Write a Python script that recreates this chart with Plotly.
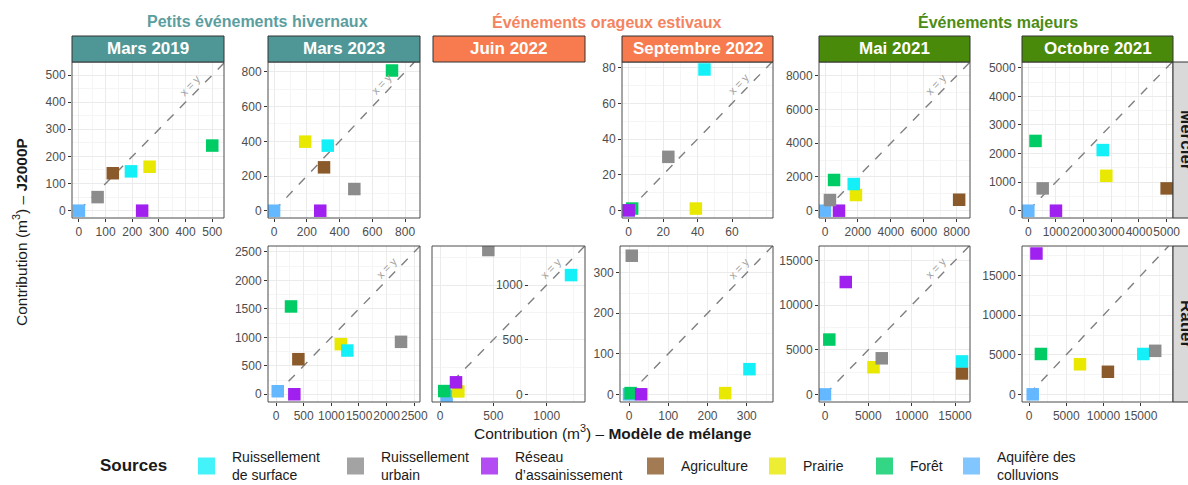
import math
import plotly.graph_objects as go

# ---------------- data ----------------
sources = ["Ruissellement de surface", "Ruissellement urbain", "Réseau d'assainissement",
           "Agriculture", "Prairie", "Forêt", "Aquifère des colluvions"]
legend_labels = ["Ruissellement<br>de surface", "Ruissellement<br>urbain", "Réseau<br>d’assainissement",
                 "Agriculture", "Prairie", "Forêt", "Aquifère des<br>colluvions"]
colors = ["#14F0F8", "#8C8C8C", "#A020F0", "#8B5A2B", "#E8E800", "#00CC66", "#63B8FF"]
draw_order = ["Agriculture", "Aquifère des colluvions", "Forêt", "Prairie",
              "Réseau d'assainissement", "Ruissellement de surface", "Ruissellement urbain"]

events = ["Mars 2019", "Mars 2023", "Juin 2022", "Septembre 2022", "Mai 2021", "Octobre 2021"]
groups = ["Petits événements hivernaux", "Événements orageux estivaux", "Événements majeurs"]
sites = ["Mercier", "Ratier"]

# x = Modèle de mélange, y = J2000P (order of `sources`)
mercier_mars2019_x = [195, 70, 237, 127, 265, 500, 0]
mercier_mars2019_y = [145, 50, 0, 138, 162, 240, 0]
mercier_mars2023_x = [328, 490, 282, 305, 190, 720, 0]
mercier_mars2023_y = [375, 125, 0, 250, 398, 808, 0]
mercier_sept2022_x = [44, 23, 0, None, 39, 2, 0]
mercier_sept2022_y = [79, 30, 0, None, 1, 1, 0]
mercier_mai2021_x = [1745, 300, 850, 8150, 1880, 550, 0]
mercier_mai2021_y = [1580, 630, 0, 650, 930, 1820, 0]
mercier_oct2021_x = [2690, 520, 1000, 5000, 2820, 260, 0]
mercier_oct2021_y = [2120, 780, 0, 780, 1220, 2440, 0]

ratier_mars2023_x = [1290, 2260, 331, 404, 1170, 271, 31]
ratier_mars2023_y = [768, 921, 0, 616, 880, 1542, 53]
ratier_juin2022_x = [1228, 453, 150, None, 172, 40, 62]
ratier_juin2022_y = [1091, 1320, 110, None, 27, 30, -13]
ratier_sept2022_x = [307, 7, 31, None, 245, 4, 0]
ratier_sept2022_y = [62, 342, 0, None, 3, 3, 0]
ratier_mai2021_x = [15800, 6550, 2400, 15800, 5600, 500, 0]
ratier_mai2021_y = [3700, 4050, 12600, 2350, 3050, 6150, 0]
ratier_oct2021_x = [15350, 16950, 1000, 10600, 6850, 1600, 500]
ratier_oct2021_y = [5100, 5500, 17800, 2850, 3800, 5100, 0]

# ---------------- layout helpers ----------------
W, H = 1188, 485
def px(x): return x / W
def py(y): return 1 - y / H

FONT = "Liberation Sans, Arial, sans-serif"
col_px = [(72, 224), (268, 420), (433, 585), (622, 773), (819, 970), (1022, 1173)]
row_px = {"Mercier": (62, 218), "Ratier": (246, 402)}
strip_fill = ["#4F9797", "#4F9797", "#F77B4E", "#F77B4E", "#4A8A0A", "#4A8A0A"]
group_colors = ["#5B9EA0", "#F4845F", "#4C8C14"]
group_x = [257, 607, 998]

panels = [
    dict(site="Mercier", ev=0, dom=(72, 224), xr=(-26, 544), yr=(-27, 548), dt=100, lab=True,
         x=mercier_mars2019_x, y=mercier_mars2019_y),
    dict(site="Mercier", ev=1, dom=(268, 420), xr=(-37, 891), yr=(-42, 857), dt=200, lab=True,
         x=mercier_mars2023_x, y=mercier_mars2023_y),
    dict(site="Mercier", ev=3, dom=(622, 773), xr=(-3.9, 83.8), yr=(-4.3, 83.2), dt=20, lab=True,
         x=mercier_sept2022_x, y=mercier_sept2022_y, xticks=[0, 20, 40, 60]),
    dict(site="Mercier", ev=4, dom=(819, 970), xr=(-365, 8810), yr=(-433, 8812), dt=2000, lab=True,
         x=mercier_mai2021_x, y=mercier_mai2021_y),
    dict(site="Mercier", ev=5, dom=(1022, 1173), xr=(-228, 5230), yr=(-255, 5200), dt=1000, lab=False,
         x=mercier_oct2021_x, y=mercier_oct2021_y),
    dict(site="Ratier", ev=1, dom=(268, 420), xr=(-145, 2603), yr=(-136, 2604), dt=500, lab=True,
         x=ratier_mars2023_x, y=ratier_mars2023_y),
    dict(site="Ratier", ev=2, dom=(432, 585), xr=(-75, 1359), yr=(-70, 1357), dt=500, lab=True,
         x=ratier_juin2022_x, y=ratier_juin2022_y, ypos=528),
    dict(site="Ratier", ev=3, dom=(620, 773), xr=(-23, 367), yr=(-19, 366), dt=100, lab=True,
         x=ratier_sept2022_x, y=ratier_sept2022_y),
    dict(site="Ratier", ev=4, dom=(819, 970), xr=(-690, 16730), yr=(-850, 16640), dt=5000, lab=True,
         x=ratier_mai2021_x, y=ratier_mai2021_y),
    dict(site="Ratier", ev=5, dom=(1022, 1173), xr=(-940, 19340), yr=(-970, 18750), dt=5000, lab=False,
         x=ratier_oct2021_x, y=ratier_oct2021_y),
]

fig = go.Figure()
shapes, annotations = [], []

def ann(**kw):
    base = dict(xref="paper", yref="paper", showarrow=False, xanchor="center", yanchor="middle")
    base.update(kw)
    annotations.append(base)

for i, p in enumerate(panels):
    n = i + 1
    xa, ya = f"x{n}", f"y{n}"
    xk, yk = ("xaxis" if n == 1 else f"xaxis{n}"), ("yaxis" if n == 1 else f"yaxis{n}")
    r0, r1 = row_px[p["site"]]
    M = min(p["xr"][1], p["yr"][1])
    # x = y line
    fig.add_trace(go.Scatter(x=[0, M], y=[0, M], xaxis=xa, yaxis=ya, mode="lines",
                             line=dict(color="#7F7F7F", width=1.4, dash="dash"),
                             showlegend=False, hoverinfo="skip"))
    for src in draw_order:
        k = sources.index(src)
        if p["x"][k] is None:
            continue
        fig.add_trace(go.Scatter(x=[p["x"][k]], y=[p["y"][k]], xaxis=xa, yaxis=ya, mode="markers",
                                 marker=dict(symbol="square", size=12.5, color=colors[k],
                                             line=dict(width=0)),
                                 name=src, showlegend=False))
    common = dict(showgrid=True, gridcolor="#EBEBEB", gridwidth=1.1, zeroline=False,
                  showline=False, ticks="outside", ticklen=3, tickwidth=1, tickcolor="#333333",
                  tickfont=dict(family=FONT, size=12, color="#4D4D4D"), automargin=False,
                  tickformat="d",
                  minor=dict(dtick=p["dt"] / 2, tick0=0, showgrid=True, gridcolor="#F5F5F5",
                             gridwidth=0.6, ticks=""))
    xax = dict(common, domain=[px(p["dom"][0]), px(p["dom"][1])], range=list(p["xr"]),
               anchor=ya, tickangle=0)
    if "xticks" in p:
        xax.update(tickmode="array", tickvals=p["xticks"])
    else:
        xax.update(tickmode="linear", tick0=0, dtick=p["dt"])
    yax = dict(common, domain=[py(r1), py(r0)], range=list(p["yr"]), tickmode="linear",
               tick0=0, dtick=p["dt"])
    if "ypos" in p:
        yax.update(anchor="free", position=px(p["ypos"]))
    else:
        yax.update(anchor=xa)
    fig.update_layout({xk: xax, yk: yax})
    # panel border
    shapes.append(dict(type="rect", xref="paper", yref="paper",
                       x0=px(p["dom"][0]), x1=px(p["dom"][1]), y0=py(r1), y1=py(r0),
                       line=dict(color="#4D4D4D", width=1), fillcolor="rgba(0,0,0,0)"))
    # x = y label
    if p["lab"]:
        wpx = p["dom"][1] - p["dom"][0]
        hpx = r1 - r0
        sx = wpx / (p["xr"][1] - p["xr"][0])
        sy = hpx / (p["yr"][1] - p["yr"][0])
        a = math.atan2(sy, sx)
        d = 8.5
        annotations.append(dict(x=0.81 * M, y=0.81 * M, xref=xa, yref=ya, text="x = y",
                                showarrow=False, textangle=-math.degrees(a),
                                xanchor="center", yanchor="middle",
                                xshift=-d * math.sin(a), yshift=d * math.cos(a),
                                font=dict(family=FONT, size=11, color="#A0A0A0")))

# column strips
for c, ev in enumerate(events):
    x0, x1 = col_px[c]
    shapes.append(dict(type="rect", xref="paper", yref="paper", x0=px(x0), x1=px(x1),
                       y0=py(62), y1=py(36), fillcolor=strip_fill[c],
                       line=dict(color="#333333", width=1)))
    ann(x=px((x0 + x1) / 2), y=py(49), text=f"<b>{ev}</b>",
        font=dict(family=FONT, size=17, color="white"))
# row strips (cut at the right edge)
for s in sites:
    r0, r1 = row_px[s]
    shapes.append(dict(type="rect", xref="paper", yref="paper", x0=px(1173), x1=px(1199),
                       y0=py(r1), y1=py(r0), fillcolor="#D9D9D9",
                       line=dict(color="#333333", width=1)))
    ann(x=px(1187), y=py((r0 + r1) / 2), text=f"<b>{s}</b>", textangle=90,
        font=dict(family=FONT, size=17, color="#1A1A1A"))
# group titles
for g, col, gx in zip(groups, group_colors, group_x):
    ann(x=px(gx), y=py(22), text=f"<b>{g}</b>", font=dict(family=FONT, size=16, color=col))
# axis titles
ann(x=px(613), y=py(432), text="Contribution (m<sup>3</sup>) – <b>Modèle de mélange</b>",
    font=dict(family=FONT, size=15.5, color="#1A1A1A"))
ann(x=px(20), y=py(232), text="Contribution (m<sup>3</sup>) – <b>J2000P</b>", textangle=-90,
    font=dict(family=FONT, size=15.5, color="#1A1A1A"))

# legend (manual)
ann(x=px(133), y=py(465), text="<b>Sources</b>", font=dict(family=FONT, size=17, color="#1A1A1A"))
leg_left = [198, 347, 481, 647, 769, 876, 963]
for k, lab in enumerate(legend_labels):
    lx = leg_left[k]
    shapes.append(dict(type="rect", xref="paper", yref="paper", x0=px(lx), x1=px(lx + 17),
                       y0=py(474.5), y1=py(457.5), fillcolor=colors[k], opacity=0.8,
                       line=dict(width=0)))
    ann(x=px(lx + 32), y=py(466), text=lab, xanchor="left", align="left",
        font=dict(family=FONT, size=14, color="#1A1A1A"))

fig.update_layout(width=W, height=H, autosize=False, margin=dict(l=0, r=0, t=0, b=0),
                  paper_bgcolor="white", plot_bgcolor="white", showlegend=False,
                  shapes=shapes, annotations=annotations, font=dict(family=FONT))
fig.write_html("out.html", config={"displayModeBar": False},
               post_script="document.body.style.margin='0';document.body.style.overflow='hidden';")
